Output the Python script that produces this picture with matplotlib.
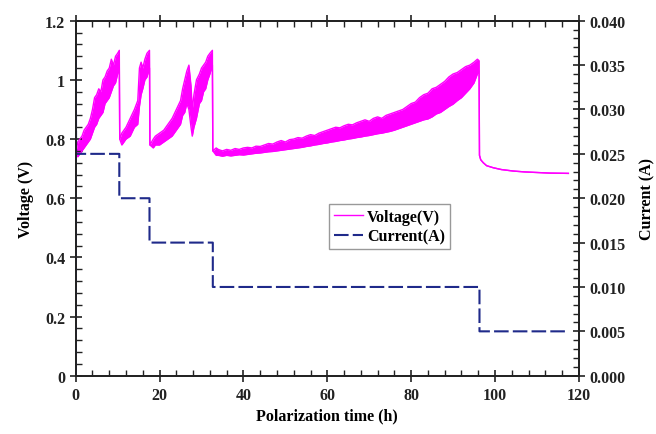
import matplotlib
matplotlib.use('Agg')
import matplotlib.pyplot as plt
from matplotlib.ticker import MultipleLocator, FormatStrFormatter

# voltage: band of the noisy trace, lower and upper edge
volt_t = [0.0, 0.02, 0.1,
          0.5, 1.0, 1.5, 2.0, 2.5, 3.0, 3.5, 4.0, 4.5, 5.0, 5.5, 6.0, 6.5, 7.0,
          7.5, 8.0, 8.5, 9.0, 9.5, 10.0, 10.4,
          10.5, 11.0, 12.0, 13.0, 14.0, 14.8, 15.2, 15.6, 16.0, 16.5, 17.0, 17.6,
          17.7, 18.5, 19.0, 20.0, 21.0, 22.0, 23.0, 24.0, 25.0, 25.5, 26.0, 26.5,
          27.0, 27.5, 27.8, 28.2, 28.8, 29.5, 30.0, 30.5, 31.0, 31.5, 32.0, 32.6,
          32.7, 33.5, 34, 35, 36, 37, 38, 39, 40, 41, 42, 43, 44, 45, 46, 47, 48,
          49, 50, 51, 52, 53, 54, 55, 56, 57, 58, 59, 60, 61, 62, 63, 64, 65, 66,
          67, 68, 69, 70, 71, 72, 73, 74, 75, 76, 77, 78, 79, 80, 81, 82, 83, 84,
          85, 86, 87, 88, 89, 90, 91, 92, 93, 94, 95, 95.8, 96.2,
          96.3, 96.6, 97.2, 98.0, 99.6, 101.5, 104.3, 107.0, 109.9, 113.0, 117.5]
volt_lo = [0.0, 1.10, 0.76,
           0.74, 0.75, 0.76, 0.77, 0.78, 0.79, 0.80, 0.82, 0.84, 0.85, 0.87, 0.88,
           0.89, 0.92, 0.93, 0.94, 0.96, 0.98, 0.99, 1.02, 1.04,
           0.80, 0.78, 0.80, 0.81, 0.84, 0.85, 0.91, 0.95, 0.97, 1.00, 1.01, 1.04,
           0.78, 0.77, 0.78, 0.78, 0.79, 0.80, 0.81, 0.83, 0.85, 0.88, 0.89, 0.92,
           0.90, 0.84, 0.81, 0.84, 0.87, 0.92, 0.93, 0.96, 0.97, 1.00, 1.02, 1.05,
           0.76, 0.745, 0.745, 0.742, 0.745, 0.743, 0.745, 0.747, 0.746, 0.748,
           0.750, 0.752, 0.753, 0.755, 0.757, 0.758, 0.760, 0.762, 0.764, 0.766,
           0.768, 0.770, 0.772, 0.775, 0.777, 0.780, 0.782, 0.785, 0.787, 0.790,
           0.792, 0.795, 0.797, 0.800, 0.802, 0.805, 0.807, 0.810, 0.812, 0.815,
           0.818, 0.820, 0.823, 0.826, 0.830, 0.835, 0.840, 0.845, 0.850, 0.855,
           0.860, 0.865, 0.868, 0.875, 0.885, 0.890, 0.900, 0.910, 0.918, 0.930,
           0.940, 0.955, 0.970, 0.990, 1.020, 1.030,
           0.745, 0.730, 0.720, 0.710, 0.703, 0.697, 0.692, 0.689, 0.687, 0.685, 0.684]
volt_hi = [0.0, 1.10, 0.76,
           0.79, 0.80, 0.81, 0.83, 0.84, 0.85, 0.87, 0.90, 0.94, 0.95, 0.97, 0.96,
           1.00, 1.01, 1.03, 1.04, 1.07, 1.05, 1.08, 1.09, 1.10,
           0.80, 0.82, 0.84, 0.87, 0.90, 0.93, 1.04, 1.06, 1.04, 1.07, 1.09, 1.10,
           0.78, 0.80, 0.81, 0.82, 0.83, 0.85, 0.87, 0.90, 0.93, 0.97, 1.00, 1.03,
           1.05, 0.98, 0.90, 0.95, 1.00, 1.02, 1.04, 1.05, 1.06, 1.08, 1.09, 1.10,
           0.76, 0.770, 0.765, 0.760, 0.765, 0.762, 0.768, 0.765, 0.770, 0.772,
           0.770, 0.776, 0.775, 0.780, 0.785, 0.783, 0.790, 0.795, 0.790, 0.798,
           0.800, 0.805, 0.803, 0.810, 0.815, 0.812, 0.820, 0.825, 0.830, 0.835,
           0.840, 0.838, 0.845, 0.850, 0.848, 0.855, 0.860, 0.865, 0.860, 0.870,
           0.875, 0.870, 0.880, 0.885, 0.890, 0.895, 0.900, 0.910, 0.920, 0.925,
           0.940, 0.950, 0.955, 0.970, 0.975, 0.985, 0.995, 1.010, 1.020, 1.025,
           1.035, 1.045, 1.050, 1.060, 1.070, 1.065,
           0.745, 0.730, 0.720, 0.710, 0.703, 0.697, 0.692, 0.689, 0.687, 0.685, 0.684]

# current steps
curr_t = [0.0, 0.02, 0.1, 10.4, 10.4, 17.6, 17.6, 32.7, 32.7, 96.3, 96.3, 117.2]
curr_a = [0.0, 0.036, 0.025, 0.025, 0.020, 0.020, 0.015, 0.015, 0.010, 0.010,
          0.005, 0.005]

magenta = '#ff00ff'
navy = '#1f2a8a'

plt.rcParams['font.family'] = ['Liberation Serif', 'DejaVu Serif']
plt.rcParams['font.weight'] = 'bold'
plt.rcParams['axes.labelweight'] = 'bold'

fig = plt.figure(figsize=(6.56, 4.35), dpi=100)
ax = fig.add_axes([0.1154, 0.134, 0.767, 0.816])
ax2 = ax.twinx()

ax.fill_between(volt_t, volt_lo, volt_hi, color=magenta, lw=0)
lv, = ax.plot(volt_t, volt_hi, color=magenta, lw=1.0)
ax.plot(volt_t, volt_lo, color=magenta, lw=1.0)

lc, = ax2.plot(curr_t, curr_a, color=navy, lw=1.5, linestyle=(0, (7, 2)))

ax.set_xlim(0, 120)
ax.set_ylim(0, 1.2)
ax2.set_ylim(0, 0.04)

ax.xaxis.set_major_locator(MultipleLocator(20))
ax.xaxis.set_minor_locator(MultipleLocator(4))
ax.yaxis.set_major_locator(MultipleLocator(0.2))
ax.yaxis.set_minor_locator(MultipleLocator(0.04))
ax.yaxis.set_major_formatter(FormatStrFormatter('%g'))
ax2.yaxis.set_major_locator(MultipleLocator(0.005))
ax2.yaxis.set_minor_locator(MultipleLocator(0.001))
ax2.yaxis.set_major_formatter(FormatStrFormatter('%.3f'))

for a in (ax, ax2):
    for s in a.spines.values():
        s.set_linewidth(1.3)
        s.set_color('#222222')
    a.tick_params(which='major', direction='inout', length=8, width=1.2,
                  labelsize=11.5, colors='#222222')
    a.tick_params(which='minor', direction='in', length=4, width=1.0,
                  colors='#222222')
ax.tick_params(which='both', top=True, right=False)
ax.tick_params(axis='x', which='major', pad=4)
ax2.tick_params(which='both', right=True, left=False)

ax.set_xlabel('Polarization time (h)', fontsize=11.5, labelpad=3)
ax.set_ylabel('Voltage (V)', fontsize=11.5, labelpad=8)
ax2.set_ylabel('Current (A)', fontsize=11.5, labelpad=10)

leg = ax2.legend([lv, lc], ['Voltage(V)', 'Current(A)'], loc='upper left',
                 bbox_to_anchor=(0.504, 0.484), fontsize=11.5, frameon=True,
                 fancybox=False, handlelength=1.8, handletextpad=0.25,
                 borderpad=0.3, labelspacing=0.25, borderaxespad=0)
leg.get_frame().set_edgecolor('#808080')
leg.get_frame().set_linewidth(1.0)

fig.savefig('out.png', dpi=100)
